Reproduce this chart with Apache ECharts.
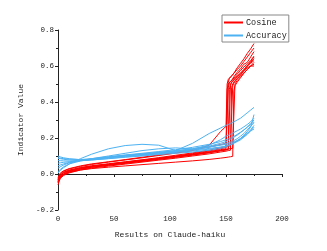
<!DOCTYPE html>
<html><head><meta charset="utf-8">
<script src="https://cdn.jsdelivr.net/npm/echarts@6/dist/echarts.min.js"></script>
<style>html,body{margin:0;padding:0;background:#fff}#c{width:327px;height:251px}</style>
</head><body><div id="c"></div>
<script>
const xValues = [0,2,5,10,20,30,45,60,75,90,105,120,135,145,150,151,152,153,154,155,156,157,158,160,163,166,169,172,175];

const cosine1 = [-0.03,-0.008,0.008,0.02,0.034,0.044,0.055,0.066,0.077,0.088,0.1,0.113,0.128,0.14,0.148,0.47,0.5,0.51,0.515,0.52,0.525,0.53,0.54,0.555,0.575,0.595,0.61,0.63,0.655];
const cosine2 = [-0.045,-0.015,0.0,0.015,0.03,0.041,0.052,0.063,0.074,0.086,0.098,0.11,0.124,0.135,0.14,0.142,0.48,0.505,0.515,0.52,0.53,0.54,0.55,0.565,0.585,0.61,0.62,0.65,0.68];
const cosine3 = [-0.025,0.0,0.015,0.028,0.042,0.053,0.066,0.078,0.09,0.103,0.116,0.13,0.16,0.235,0.265,0.5,0.525,0.535,0.54,0.545,0.55,0.56,0.57,0.59,0.615,0.64,0.67,0.695,0.725];
const cosine4 = [-0.05,-0.02,-0.004,0.01,0.026,0.037,0.048,0.059,0.07,0.081,0.093,0.105,0.118,0.128,0.133,0.135,0.137,0.47,0.5,0.51,0.515,0.52,0.53,0.545,0.56,0.58,0.6,0.615,0.63];
const cosine5 = [-0.035,-0.01,0.005,0.018,0.032,0.042,0.053,0.064,0.075,0.086,0.097,0.108,0.12,0.13,0.135,0.136,0.137,0.138,0.49,0.51,0.52,0.525,0.53,0.54,0.56,0.58,0.6,0.62,0.64];
const cosine6 = [-0.06,-0.025,-0.008,0.006,0.022,0.033,0.044,0.055,0.066,0.077,0.088,0.1,0.112,0.122,0.127,0.128,0.13,0.131,0.132,0.48,0.5,0.51,0.52,0.53,0.55,0.57,0.59,0.6,0.62];
const cosine7 = [-0.04,-0.015,-0.002,0.01,0.022,0.03,0.038,0.045,0.052,0.059,0.066,0.073,0.081,0.088,0.092,0.093,0.094,0.095,0.096,0.097,0.098,0.46,0.49,0.51,0.535,0.56,0.58,0.6,0.61];
const cosine8 = [-0.03,-0.005,0.01,0.022,0.036,0.046,0.057,0.068,0.079,0.091,0.104,0.117,0.132,0.145,0.152,0.153,0.154,0.155,0.156,0.157,0.49,0.505,0.515,0.53,0.55,0.575,0.6,0.625,0.65];
const cosine9 = [-0.02,0.005,0.018,0.03,0.045,0.056,0.068,0.08,0.093,0.106,0.12,0.135,0.15,0.163,0.17,0.172,0.51,0.53,0.54,0.545,0.55,0.56,0.565,0.58,0.6,0.625,0.65,0.675,0.7];
const cosine10 = [-0.045,-0.018,-0.003,0.012,0.027,0.038,0.049,0.06,0.071,0.082,0.094,0.106,0.12,0.131,0.137,0.138,0.139,0.14,0.141,0.142,0.143,0.144,0.5,0.52,0.54,0.56,0.58,0.6,0.6];

const accuracy1 = [0.005,0.02,0.035,0.055,0.085,0.11,0.14,0.158,0.165,0.16,0.13,0.17,0.225,0.255,0.27,0.272,0.275,0.278,0.281,0.284,0.287,0.29,0.293,0.3,0.31,0.325,0.34,0.355,0.37];
const accuracy2 = [0.1,0.095,0.09,0.085,0.08,0.082,0.09,0.1,0.11,0.12,0.13,0.14,0.155,0.17,0.18,0.183,0.186,0.19,0.193,0.197,0.2,0.204,0.208,0.216,0.23,0.245,0.26,0.28,0.3];
const accuracy3 = [0.087,0.085,0.082,0.078,0.075,0.078,0.085,0.093,0.1,0.108,0.115,0.122,0.132,0.142,0.15,0.153,0.156,0.159,0.162,0.165,0.168,0.172,0.176,0.184,0.198,0.215,0.235,0.26,0.33];
const accuracy4 = [0.074,0.074,0.073,0.072,0.074,0.078,0.086,0.095,0.103,0.112,0.122,0.135,0.15,0.16,0.165,0.166,0.168,0.17,0.172,0.174,0.176,0.178,0.18,0.186,0.196,0.21,0.225,0.245,0.27];
const accuracy5 = [0.06,0.062,0.065,0.068,0.075,0.082,0.092,0.1,0.108,0.116,0.125,0.133,0.142,0.15,0.155,0.157,0.159,0.161,0.163,0.165,0.168,0.171,0.174,0.18,0.19,0.205,0.22,0.24,0.26];
const accuracy6 = [0.045,0.05,0.056,0.064,0.074,0.083,0.094,0.104,0.112,0.12,0.128,0.138,0.15,0.162,0.17,0.172,0.174,0.176,0.178,0.18,0.183,0.186,0.189,0.196,0.21,0.225,0.245,0.265,0.285];
const accuracy7 = [0.032,0.04,0.05,0.062,0.075,0.085,0.096,0.106,0.115,0.125,0.135,0.148,0.165,0.18,0.19,0.192,0.195,0.198,0.2,0.203,0.206,0.209,0.212,0.22,0.232,0.245,0.26,0.275,0.29];
const accuracy8 = [0.013,0.025,0.04,0.056,0.072,0.082,0.092,0.1,0.107,0.113,0.12,0.128,0.138,0.148,0.155,0.157,0.16,0.162,0.165,0.168,0.171,0.174,0.177,0.184,0.195,0.21,0.225,0.24,0.25];
const accuracy9 = [0.09,0.088,0.085,0.082,0.08,0.085,0.1,0.115,0.13,0.14,0.145,0.14,0.16,0.19,0.21,0.212,0.215,0.218,0.221,0.224,0.227,0.23,0.234,0.24,0.25,0.262,0.275,0.29,0.31];

const cosineSets = [cosine1,cosine2,cosine3,cosine4,cosine5,cosine6,cosine7,cosine8,cosine9,cosine10];
const accuracySets = [accuracy1,accuracy2,accuracy3,accuracy4,accuracy5,accuracy6,accuracy7,accuracy8,accuracy9];

const RED = '#FF0000', BLUE = '#4DB2F2';
const FONT = 'Liberation Mono';

function mk(name, color, arr) {
  return {
    name: name, type: 'line', showSymbol: false, symbol: 'none',
    lineStyle: { color: color, width: 1 }, itemStyle: { color: color },
    data: xValues.map((x, i) => [x, arr[i]]), animation: false, z: 2
  };
}
const series = [];
cosineSets.forEach(a => series.push(mk('Cosine', RED, a)));
accuracySets.forEach(a => series.push(mk('Accuracy', BLUE, a)));

const chart = echarts.init(document.getElementById('c'), null, { renderer: 'canvas' });
chart.setOption({
  animation: false,
  backgroundColor: '#fff',
  grid: { left: 58, right: 45, top: 30, bottom: 41, containLabel: false },
  legend: {
    data: [{ name: 'Cosine', icon: 'rect' }, { name: 'Accuracy', icon: 'rect' }],
    orient: 'vertical', left: 222, top: 15,
    itemWidth: 19, itemHeight: 2, itemGap: 4,
    padding: [3, 2, 2, 2],
    borderColor: '#888', borderWidth: 1, backgroundColor: '#fff',
    textStyle: { fontFamily: FONT, fontSize: 8.5, color: '#222', padding: [0, 0, 0, -2] },
    selectedMode: false
  },
  xAxis: {
    type: 'value', min: 0, max: 200, interval: 50,
    name: 'Results on Claude-haiku', nameLocation: 'middle', nameGap: 21,
    nameTextStyle: { fontFamily: FONT, fontSize: 8, color: '#222' },
    axisLine: { lineStyle: { color: '#222', width: 1 } },
    axisTick: { show: true, length: 3, lineStyle: { color: '#222' } },
    minorTick: { show: true, splitNumber: 2, length: 2, lineStyle: { color: '#222' } },
    splitLine: { show: false },
    axisLabel: { fontFamily: FONT, fontSize: 7.5, color: '#222', margin: 5 }
  },
  yAxis: {
    type: 'value', min: -0.2, max: 0.8, interval: 0.2,
    name: 'Indicator Value', nameLocation: 'middle', nameGap: 25, nameRotate: 90,
    nameTextStyle: { fontFamily: FONT, fontSize: 8, color: '#222' },
    axisLine: { show: true, lineStyle: { color: '#222', width: 1 } },
    axisTick: { show: true, length: 3, lineStyle: { color: '#222' } },
    minorTick: { show: true, splitNumber: 2, length: 2, lineStyle: { color: '#222' } },
    splitLine: { show: false },
    axisLabel: { fontFamily: FONT, fontSize: 7.5, color: '#222', margin: 4,
      formatter: v => (Math.abs(v) < 1e-9 ? 0 : v).toFixed(1) }
  },
  series: series
});
</script>
</body></html>
